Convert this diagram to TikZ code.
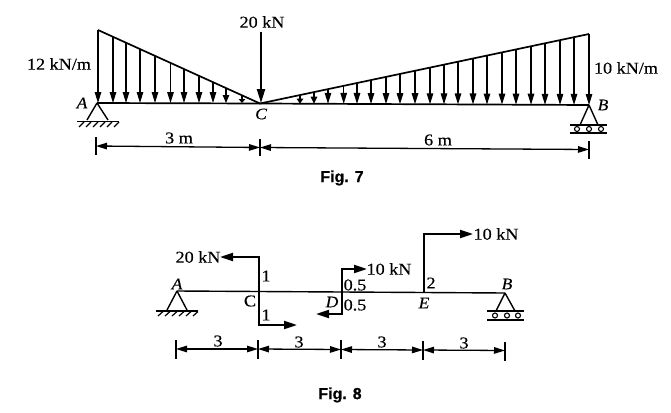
\documentclass[tikz,border=0pt]{standalone}
\usepackage{fontspec}
\setmainfont[FakeStretch=1.1,FakeBold=0.25]{Liberation Serif}
\newfontfamily\figfont[FakeBold=0.5]{Liberation Sans}
\usetikzlibrary{arrows.meta}
\tikzset{
  beam/.style={line width=1.7pt},
  member/.style={line width=1.4pt},
  load/.style={line width=1.2pt,-{Triangle[length=#1pt,width=6.5pt]}},
  force/.style={line width=2pt,-{Triangle[length=13pt,width=8pt]}},
  force big/.style={line width=2.2pt,-{Triangle[length=14pt,width=8pt]}},
  thin line/.style={line width=1.2pt},
  dim/.style={line width=1.3pt,{Triangle[length=11pt,width=6.5pt]}-{Triangle[length=11pt,width=6.5pt]}},
  lab/.style={inner sep=0pt,font=\fontsize{16.5}{17}\selectfont},
  ital/.style={lab,font=\fontsize{16}{17}\selectfont\itshape},
  figlab/.style={inner sep=0pt,font=\fontsize{16}{17}\selectfont\figfont\bfseries},
  roller/.style={circle,draw,line width=1.1pt,inner sep=0pt,minimum size=5pt}
}
\begin{document}
\begin{tikzpicture}[x=1pt,y=-1pt]
\useasboundingbox (0,0) rectangle (671,412);
% ---------- Fig. 7 ----------
\coordinate (A7) at (97,103);
\coordinate (C7) at (260,103.5);
\coordinate (B7) at (589,105);
\coordinate (TL) at (98,30);
\coordinate (TR) at (589,34);
\draw[beam] (A7) -- (C7) -- (B7);
\draw[beam] (TL) -- (C7) -- (TR);
% left load arrows
\foreach \x/\h in {98/11,113/11,126/11,140/11,155/11,170.5/11,184/11,199/11,213/11,226/8,242/4}{
  \pgfmathsetmacro{\yt}{30+(\x-98)/162*73.5}
  \coordinate (lt) at (\x,\yt);
  \coordinate (lb) at (\x,103);
  \draw[load=\h] (lt) -- (lb);
}
% right load arrows
\foreach \x/\h in {300/5,314/7,328/11,343.7/11,357/11,371/11,386/11,400/11,415/11,430/11,444/11,458/11,473/11,487/11,502/11,516/11,531/11,545/11,560/11,574/11,589/11}{
  \pgfmathsetmacro{\yt}{103.5-(\x-260)/329*69.5}
  \pgfmathsetmacro{\yb}{103.5+(\x-260)/329*1.5}
  \coordinate (rt) at (\x,\yt);
  \coordinate (rb) at (\x,\yb);
  \draw[load=\h] (rt) -- (rb);
}
% point load
\node[lab] (p20) at (262,22) {20 kN};
\coordinate (p20s) at (261,32);
\coordinate (p20e) at (261,103);
\draw[force big] (p20s) -- (p20e);
\node[lab] (q12) at (59,64) {12 kN/m};
\node[lab] (q10) at (626,68) {10 kN/m};
\node[ital] (nA7) at (82,103) {A};
\node[ital] (nC7) at (261,114) {C};
\node[ital] (nB7) at (603,105) {B};
% support A
\draw[line width=1.4pt] (A7) -- (87,120) (A7) -- (108,120);
\draw[beam] (77,121.5) -- (119,121.5);
\foreach \x in {84,91,98,105,112,119}{\draw[thin line] (\x,122) -- (\x-5,127);}
% support B
\draw[line width=1.4pt] (B7) -- (580,125) (B7) -- (598,125);
\draw[beam] (570,125) -- (607,125);
\draw[beam] (570,133) -- (607,133);
\node[roller] (r1) at (577,129) {};
\node[roller] (r2) at (589,129) {};
\node[roller] (r3) at (601,129) {};
% dimensions
\coordinate (d1) at (96,146);
\coordinate (d2) at (260,147.5);
\coordinate (d3) at (589,149.5);
\draw[line width=1.4pt] (96,137) -- (96,155) (260,139) -- (260,156) (589,141) -- (589,159);
\draw[dim] (d1) -- (d2);
\draw[dim] (d2) -- (d3);
\node[lab] (m3) at (179,138) {3 m};
\node[lab] (m6) at (438,140) {6 m};
\node[figlab] (f7) at (342,178) {Fig. 7};
% ---------- Fig. 8 ----------
\coordinate (A8) at (177,291);
\coordinate (C8) at (259,291.5);
\coordinate (D8) at (342,292);
\coordinate (E8) at (424,292.5);
\coordinate (B8) at (505,293);
\draw[member] (A8) -- (C8) -- (D8) -- (E8) -- (B8);
\node[ital] (nA8) at (177,284) {A};
\node[ital] (nB8) at (507,284) {B};
\node[lab] (nC8) at (250,301) {C};
\node[ital] (nD8) at (332,302) {D};
\node[ital] (nE8) at (424,303) {E};
\node[lab] (k20) at (198,257) {20 kN};
\node[lab] (k10a) at (389,269) {10 kN};
\node[lab] (k10b) at (496,234) {10 kN};
\coordinate (c1) at (259,257);
\coordinate (c1e) at (220,257);
\coordinate (c2) at (259,325);
\coordinate (c2e) at (297,325);
\coordinate (d1b) at (342,269);
\coordinate (d1e) at (367,269);
\coordinate (d2b) at (342,314);
\coordinate (d2e) at (316,314);
\coordinate (e1) at (424,234);
\coordinate (e1e) at (473,234);
\draw[force] (C8) -- (c1) -- (c1e);
\draw[force] (C8) -- (c2) -- (c2e);
\draw[force] (D8) -- (d1b) -- (d1e);
\draw[force] (D8) -- (d2b) -- (d2e);
\draw[force] (E8) -- (e1) -- (e1e);
\node[lab] (l1) at (266,276) {1};
\node[lab] (l2) at (266,315) {1};
\node[lab] (l3) at (355,285) {0.5};
\node[lab] (l4) at (355,305) {0.5};
\node[lab] (l5) at (431,283) {2};
% support A
\draw[line width=1.4pt] (A8) -- (167,310) (A8) -- (187,310);
\draw[beam] (156,311) -- (198,311);
\foreach \x in {163,170,177,184,191,198}{\draw[thin line] (\x,311.5) -- (\x-5,316);}
% support B
\draw[line width=1.4pt] (B8) -- (496,311) (B8) -- (515,311);
\draw[beam] (487,311) -- (524,311);
\draw[beam] (487,320) -- (524,320);
\node[roller] (s1) at (495,315.5) {};
\node[roller] (s2) at (507,315.5) {};
\node[roller] (s3) at (518,315.5) {};
% dimensions
\coordinate (g1) at (176,349);
\coordinate (g2) at (258,349);
\coordinate (g3) at (341,349.5);
\coordinate (g4) at (423,350);
\coordinate (g5) at (505,350.5);
\draw[line width=1.4pt] (176,340) -- (176,359) (258,340) -- (258,359) (341,340) -- (341,359) (423,341) -- (423,360) (505,342) -- (505,361);
\draw[dim] (g1) -- (g2);
\draw[dim] (g2) -- (g3);
\draw[dim] (g3) -- (g4);
\draw[dim] (g4) -- (g5);
\node[lab] (t1) at (218,341) {3};
\node[lab] (t2) at (299,342) {3};
\node[lab] (t3) at (382,342) {3};
\node[lab] (t4) at (464,343) {3};
\node[figlab] (f8) at (340,395) {Fig. 8};
\end{tikzpicture}
\end{document}
